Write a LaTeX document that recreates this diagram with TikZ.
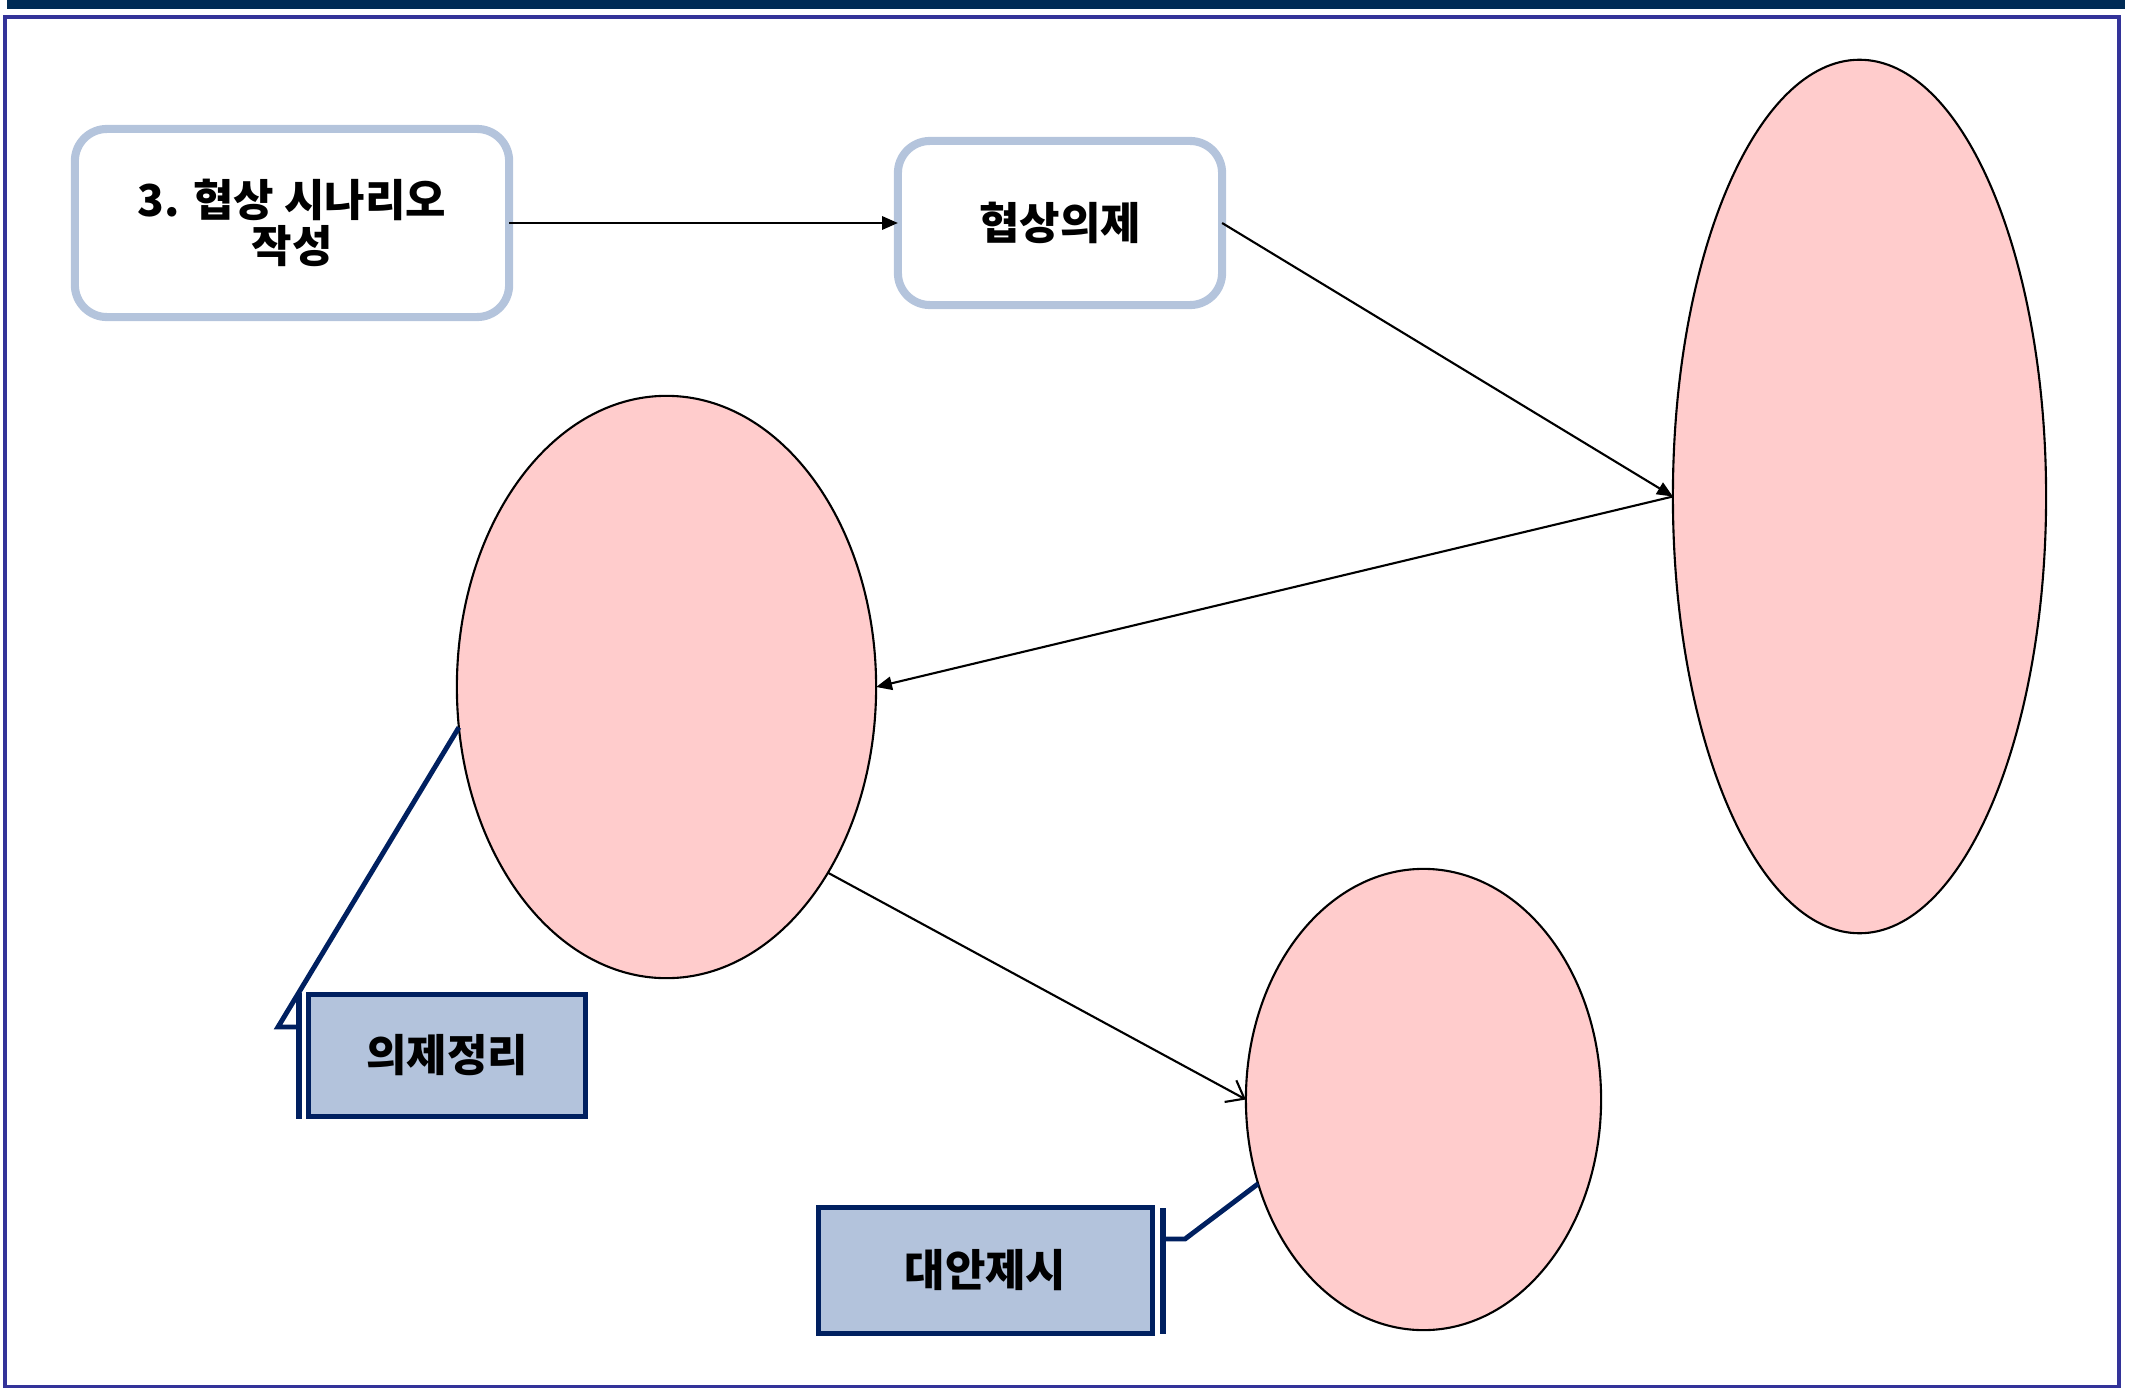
\documentclass[tikz,border=0pt]{standalone}
\usepackage{fontspec}
\newfontfamily\kr{Noto Sans CJK KR}
\usetikzlibrary{shapes.geometric,arrows.meta}
\definecolor{topbar}{HTML}{002B55}
\definecolor{framecol}{HTML}{333399}
\definecolor{boxline}{HTML}{B4C4DC}
\definecolor{calfill}{HTML}{B3C3DC}
\definecolor{calline}{HTML}{002060}
\definecolor{ellfill}{HTML}{FFCCCC}
\begin{document}
\begin{tikzpicture}[x=0.01cm,y=-0.01cm,
  every node/.style={font=\kr\bfseries\fontsize{12.5pt}{14pt}\selectfont, outer sep=0pt, inner sep=0pt},
  rbox/.style={draw=boxline, line width=2.3pt, rounded corners=0.32cm, fill=white, align=center},
  callbox/.style={draw=calline, line width=1.4pt, fill=calfill},
  ell/.style={ellipse, draw=black, line width=0.6pt, fill=ellfill},
  conn/.style={draw=black, line width=0.6pt},
  filledtip/.style={-{Triangle[length=4.5pt,width=3.8pt]}},
  opentip/.style={-{Straight Barb[length=4.5pt,width=7pt,line width=0.6pt]}},
  leader/.style={draw=calline, line width=1.4pt},
  accent/.style={draw=calline, line width=1.8pt}
]
\useasboundingbox (0,0) rectangle (2133,1388);
\fill[topbar] (7,0) rectangle (2125,9);
\draw[framecol, line width=1.4pt] (5,17) rectangle (2119,1387);

\node[rbox, minimum width=4.34cm, minimum height=1.88cm] (b1) at (292,223) {3. 협상 시나리오\\[-1pt]작성};
\node[rbox, minimum width=3.24cm, minimum height=1.64cm] (b2) at (1060,223) {협상의제};

\node[ell, minimum width=3.73cm, minimum height=8.73cm] (E1) at (1859.5,496.5) {};
\node[ell, minimum width=4.19cm, minimum height=5.82cm] (E2) at (666.5,687) {};
\node[ell, minimum width=3.55cm, minimum height=4.61cm] (E3) at (1423.5,1099.5) {};

\draw[conn, filledtip] (b1.east) -- (b2.west);
\draw[conn, filledtip] (b2.east) -- (E1.west);
\draw[conn, filledtip] (E1.west) -- (E2.east);
\draw[conn, opentip] (E2.-49.5) -- (E3.west);

\node[callbox, minimum width=2.77cm, minimum height=1.22cm] (c1) at (447,1055.5) {의제정리};
\node[callbox, minimum width=3.34cm, minimum height=1.26cm] (c2) at (985.5,1270.5) {대안제시};

\coordinate (a1t) at (299,993);
\coordinate (a1b) at (299,1119);
\coordinate (k1) at (278,1027);
\coordinate (h1) at (299,1027);
\draw[accent] (a1t) -- (a1b);
\draw[leader, line join=miter] (E2.191) -- (k1) -- (h1);

\coordinate (a2t) at (1163,1208);
\coordinate (a2b) at (1163,1334);
\coordinate (k2) at (1185,1239);
\coordinate (h2) at (1163,1239);
\draw[accent] (a2t) -- (a2b);
\draw[leader, line join=miter] (E3.207) -- (k2) -- (h2);
\end{tikzpicture}
\end{document}
